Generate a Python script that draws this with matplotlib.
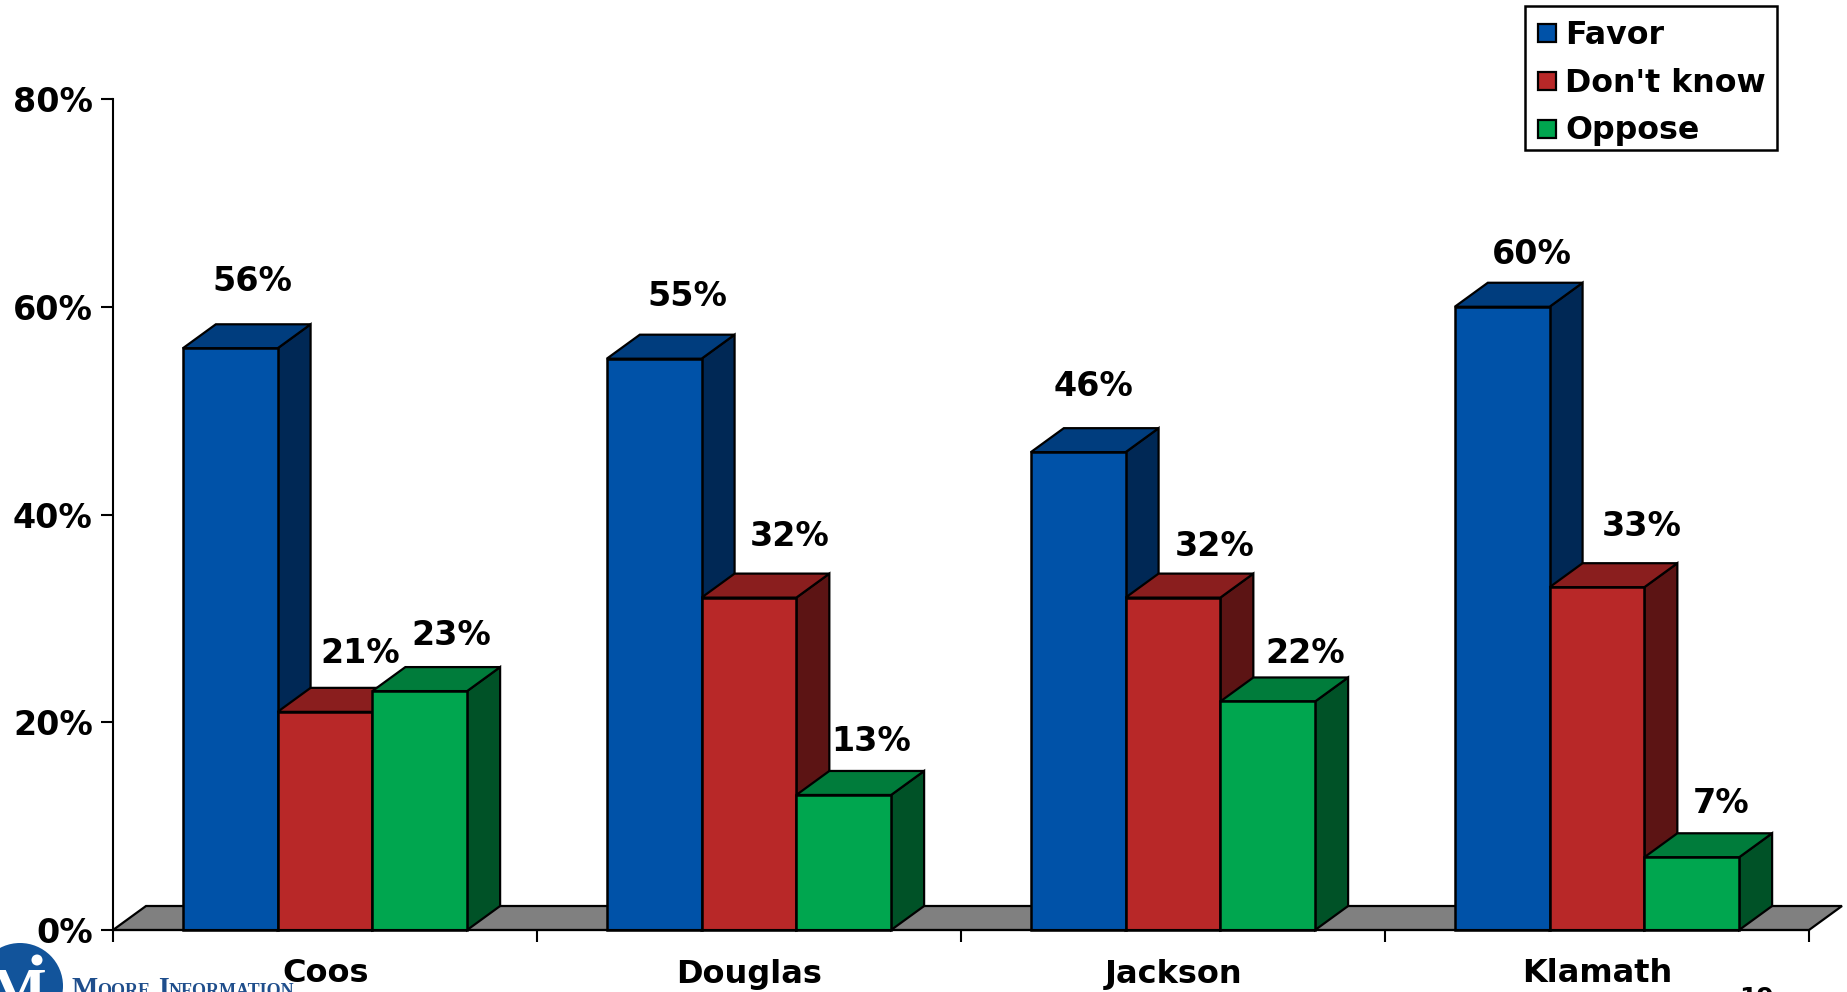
import matplotlib
matplotlib.use('Agg')
import matplotlib.pyplot as plt
from matplotlib.patches import Polygon, Circle, Rectangle

# data
counties = ['Coos', 'Douglas', 'Jackson', 'Klamath']
series_names = ['Favor', "Don't know", 'Oppose']
favor = [56, 55, 46, 60]
dont_know = [21, 32, 32, 33]
oppose = [23, 13, 22, 7]
y_ticks = [0, 20, 40, 60, 80]

front_colors = ['#0052A8', '#B82828', '#00A64F']
top_colors = ['#003D7E', '#8A1E1E', '#007C3B']
side_colors = ['#002855', '#5C1414', '#005227']

W, H = 1847, 992
LEFT, RIGHT, BASE, TOP = 113, 1809, 930, 99
DEPTH_PX_X, DEPTH_PX_Y = 33, 24
TXT = 'DejaVu Sans'

# the value labels are not placed evenly in the original, pixel nudges per series / county
label_nudge = [
    [(6, 6), (17, 2), (-1, 5), (13, -8)],
    [(19, -2), (24, 1), (25, -9), (28, 0)],
    [(15, -5), (11, -7), (21, -13), (13, -7)],
]

fig = plt.figure(figsize=(W / 100, H / 100), dpi=100, facecolor='white')
ax = fig.add_axes([LEFT / W, (H - BASE) / H, (RIGHT - LEFT) / W, (BASE - TOP) / H])
ax.set_xlim(0, 4)
ax.set_ylim(0, 80)

# depth of the fake 3d effect, in data units
dx = DEPTH_PX_X / (RIGHT - LEFT) * 4
dy = DEPTH_PX_Y / (BASE - TOP) * 80
bar_w = 0.2235

# grey floor
floor = Polygon([(0, 0), (dx, dy), (4 + dx, dy), (4, 0)], closed=True, fc='#808080',
                ec='black', lw=1.6, clip_on=False, zorder=1)
ax.add_patch(floor)

series = [favor, dont_know, oppose]
z = 2
for i, c in enumerate(counties):
    for j, vals in enumerate(series):
        v = vals[i]
        x0 = i + 1 / 6 + j * bar_w - 0.002
        x1 = x0 + bar_w
        ax.add_patch(Polygon([(x1, 0), (x1 + dx, dy), (x1 + dx, v + dy), (x1, v)], closed=True,
                             fc=side_colors[j], ec='black', lw=1.6, clip_on=False, zorder=z))
        ax.add_patch(Polygon([(x0, v), (x0 + dx, v + dy), (x1 + dx, v + dy), (x1, v)], closed=True,
                             fc=top_colors[j], ec='black', lw=1.6, clip_on=False, zorder=z))
        ax.bar(x0, v, width=bar_w, align='edge', color=front_colors[j], edgecolor='black',
               linewidth=1.8, clip_on=False, zorder=z + 1)
        nx, ny = label_nudge[j][i]
        ax.annotate(f'{v}%', (x0 + bar_w / 2 + dx / 2, v + dy), xytext=(nx, 20 + ny), textcoords='offset pixels',
                    ha='center', va='bottom', fontsize=24, fontweight='bold', family=TXT,
                    zorder=50, annotation_clip=False)
        z += 2

for s in ['top', 'right']:
    ax.spines[s].set_visible(False)
for s in ['left', 'bottom']:
    ax.spines[s].set_linewidth(1.5)
    ax.spines[s].set_zorder(60)

ax.set_yticks(y_ticks)
ax.set_yticklabels([f'{t}%' for t in y_ticks], fontsize=24, fontweight='bold', family=TXT)
ax.set_xticks(range(5))
ax.set_xticklabels([''] * 5)
ax.tick_params(axis='both', length=8.6, width=1.5, direction='out')
ax.tick_params(axis='y', pad=6)

for i, c in enumerate(counties):
    fig.text((LEFT + (i + 0.5) * 424 + 0.5) / W, 1 - 974 / H, c, ha='center', va='center',
             fontsize=23, fontweight='bold', family=TXT)

# legend box
lax = fig.add_axes([0, 0, 1, 1], facecolor='none')
lax.set_xlim(0, W)
lax.set_ylim(H, 0)
lax.axis('off')
lax.add_patch(Rectangle((1529 - 4, 6), 252, 144, fc='white', ec='black', lw=1.8))
for name, col, yy in zip(series_names, front_colors, [33, 81, 129]):
    lax.add_patch(Rectangle((1538, yy - 9), 18, 18, fc=col, ec='black', lw=1.6))
    lax.text(1565, yy + 2, name, va='center', ha='left', fontsize=22.8, fontweight='bold', family=TXT)

# logo, cut off by the page edge
lax.add_patch(Circle((20, 986), 43, fc='#12549B', ec='none', clip_on=True))
lax.text(18, 1010, 'M', color='white', ha='center', va='baseline', fontsize=44, fontweight='bold',
         family='Liberation Serif')
lax.add_patch(Circle((37, 960), 5.5, fc='white', ec='none'))
for piece, size, px in [('M', 20, 72), ('OORE', 13, 97), ('I', 20, 158), ('NFORMATION', 13, 169)]:
    lax.text(px, 995.5, piece, color='#1F4E8C', ha='left', va='baseline', fontsize=size,
             fontweight='bold', family='Liberation Serif')

# page number, mostly off the page
lax.text(1757, 1005, '19', ha='center', va='baseline', fontsize=18, fontweight='bold', family=TXT)

fig.savefig('out.png', dpi=100)
